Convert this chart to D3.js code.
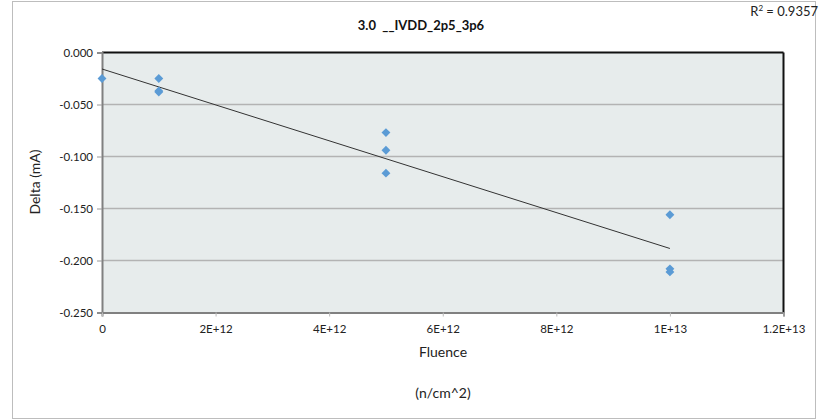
<!DOCTYPE html>
<html><head><meta charset="utf-8">
<script src="https://cdn.jsdelivr.net/npm/d3@7"></script>
<style>body{margin:0;background:#fff}svg{display:block}text{font-family:Lato,"Open Sans",sans-serif}</style>
</head><body>
<svg id="c" width="821" height="420"></svg>
<script>
const fluence = [0, 1e12, 1e12, 1e12, 5e12, 5e12, 5e12, 1e13, 1e13, 1e13];
const delta = [-0.025, -0.025, -0.037, -0.038, -0.077, -0.094, -0.116, -0.156, -0.208, -0.211];
const xTicks = [0, 2e12, 4e12, 6e12, 8e12, 1e13, 1.2e13];
const xTickLabels = ["0", "2E+12", "4E+12", "6E+12", "8E+12", "1E+13", "1.2E+13"];
const yTicks = [0, -0.05, -0.1, -0.15, -0.2, -0.25];
const yTickLabels = ["0.000", "-0.050", "-0.100", "-0.150", "-0.200", "-0.250"];
const title = "3.0  __IVDD_2p5_3p6";

const svg = d3.select("#c");
const L = 102, R = 783.5, T = 52.5, B = 312.5;
const x = d3.scaleLinear().domain([0, 1.2e13]).range([L, R]);
const y = d3.scaleLinear().domain([-0.25, 0]).range([B, T]);

// outer border
svg.append("rect").attr("x", 12.5).attr("y", 1.5).attr("width", 803).attr("height", 417)
  .attr("fill", "#fff").attr("stroke", "#BDBDBD").attr("stroke-width", 1);

// plot background
svg.append("rect").attr("x", L).attr("y", T).attr("width", R - L).attr("height", B - T)
  .attr("fill", "#E7ECEC");

// gridlines
svg.append("g").selectAll("line").data(yTicks.slice(1, -1)).join("line")
  .attr("x1", L).attr("x2", R).attr("y1", d => y(d)).attr("y2", d => y(d))
  .attr("stroke", "#B3B3B3").attr("stroke-width", 1.5);

// top and right borders (black)
svg.append("line").attr("x1", L).attr("x2", R).attr("y1", T).attr("y2", T).attr("stroke", "#111").attr("stroke-width", 2);
svg.append("line").attr("x1", R).attr("x2", R).attr("y1", T).attr("y2", B).attr("stroke", "#111").attr("stroke-width", 2);

// axes
const yAxis = d3.axisLeft(y).tickValues(yTicks).tickFormat((d, i) => yTickLabels[i]).tickSize(5).tickPadding(4);
const gy = svg.append("g").attr("transform", `translate(${L},0)`).call(yAxis);
gy.select(".domain").attr("stroke", "#808080").attr("stroke-width", 2);
gy.selectAll(".tick line").attr("stroke", "#999");
gy.selectAll("text").attr("font-size", 11.5).attr("fill", "#222");

const xAxis = d3.axisBottom(x).tickValues(xTicks).tickFormat((d, i) => xTickLabels[i]).tickSize(4).tickPadding(8);
const gx = svg.append("g").attr("transform", `translate(0,${B})`).call(xAxis);
gx.select(".domain").attr("stroke", "#808080").attr("stroke-width", 2);
gx.selectAll(".tick line").attr("stroke", "#BBB");
gx.selectAll("text").attr("font-size", 11.5).attr("fill", "#222");

// trendline (least squares)
const n = fluence.length;
const mx = d3.mean(fluence), my = d3.mean(delta);
let sxy = 0, sxx = 0, syy = 0;
for (let i = 0; i < n; i++) { sxy += (fluence[i]-mx)*(delta[i]-my); sxx += (fluence[i]-mx)**2; syy += (delta[i]-my)**2; }
const slope = sxy / sxx, icpt = my - slope * mx;
const r2 = (sxy*sxy)/(sxx*syy);
const x0 = d3.min(fluence), x1 = d3.max(fluence);
svg.append("line").attr("x1", x(x0)).attr("y1", y(icpt + slope*x0)).attr("x2", x(x1)).attr("y2", y(icpt + slope*x1))
  .attr("stroke", "#333").attr("stroke-width", 1);

// points
const diamond = d3.symbol().type(d3.symbolDiamond2).size(50);
svg.append("g").selectAll("path").data(fluence.map((f, i) => [f, delta[i]])).join("path")
  .attr("d", diamond).attr("transform", d => `translate(${x(d[0])},${y(d[1])})`)
  .attr("fill", "#5B9BD5");

// title
svg.append("text").attr("x", 421).attr("y", 30).attr("text-anchor", "middle")
  .style("white-space", "pre")
  .attr("font-size", 13).attr("font-weight", "bold").attr("fill", "#111").text(title);

// R^2
const rt = svg.append("text").attr("x", 818).attr("y", 16).attr("text-anchor", "end").attr("font-size", 13).attr("fill", "#222");
rt.append("tspan").text("R");
rt.append("tspan").attr("dy", -5).attr("font-size", 8).text("2");
rt.append("tspan").attr("dy", 5).text(" = " + r2.toFixed(4));

// axis titles
svg.append("text").attr("transform", `translate(40,182) rotate(-90)`).attr("text-anchor", "middle")
  .attr("font-size", 14).attr("fill", "#222").text("Delta (mA)");
svg.append("text").attr("x", 443).attr("y", 357).attr("text-anchor", "middle")
  .attr("font-size", 14).attr("fill", "#222").text("Fluence");
svg.append("text").attr("x", 443).attr("y", 398).attr("text-anchor", "middle")
  .attr("font-size", 14).attr("fill", "#222").text("(n/cm^2)");
</script>
</body></html>
